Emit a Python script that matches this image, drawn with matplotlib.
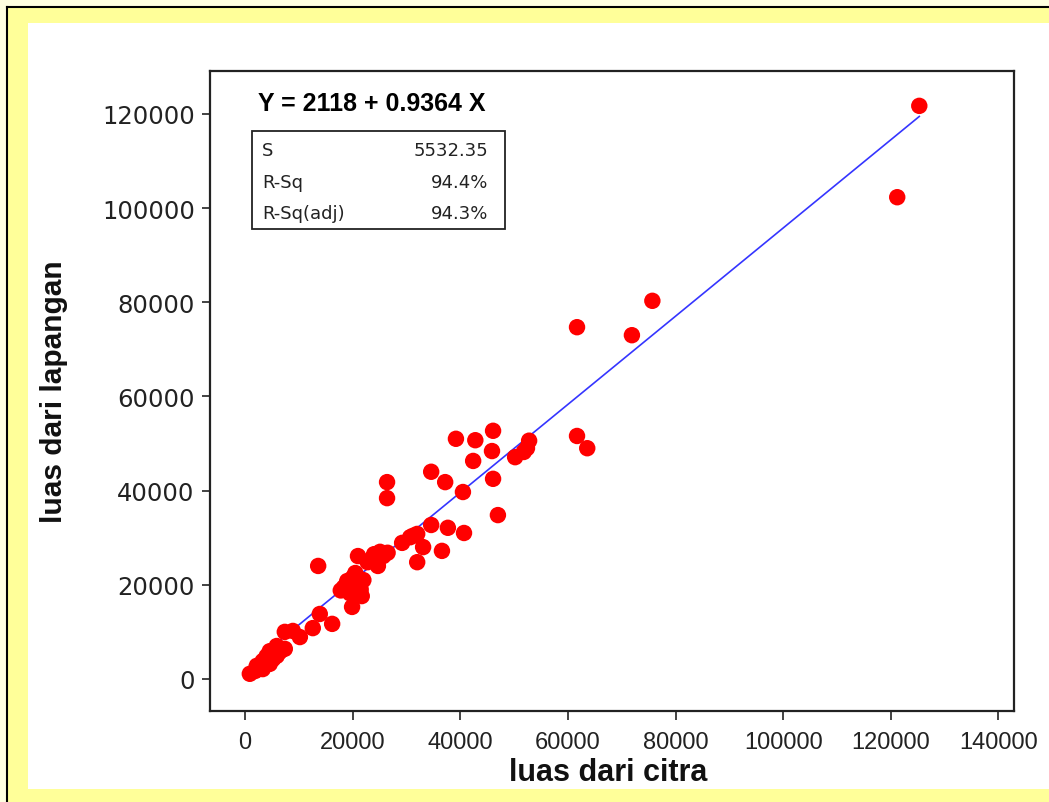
import matplotlib
matplotlib.use("Agg")
import matplotlib.pyplot as plt
from matplotlib.patches import Rectangle
from matplotlib.lines import Line2D
import numpy as np

# ---- data (thousands, converted below) ----
citra_k = [125.3, 121.2, 75.7, 61.7, 71.9, 61.7, 63.6,
           46.1, 45.9, 52.8, 52.4, 51.8, 50.2, 46.1, 47.0,
           39.2, 42.8, 42.4, 34.6, 37.2, 40.5, 26.4, 26.4,
           34.6, 37.7, 40.7, 32.0, 30.7, 29.2, 33.1, 36.6, 32.0, 31.2,
           25.7, 25.1, 24.7, 23.5, 26.5, 24.0, 22.8, 21.0, 13.6,
           18.4, 19.5, 20.0, 20.8, 21.5, 19.0, 20.5, 21.2, 19.9, 21.7, 17.8, 22.0,
           13.9, 16.2, 12.6, 7.4, 8.9, 10.2, 5.9, 7.4, 4.6, 5.2, 3.3, 2.2,
           4.6, 0.9, 1.9, 5.9, 3.3, 6.5, 4.0]
lapangan_k = [121.7, 102.3, 80.3, 74.7, 73.0, 51.6, 49.0,
              52.7, 48.4, 50.6, 49.0, 48.2, 47.1, 42.5, 34.8,
              51.0, 50.7, 46.3, 44.0, 41.8, 39.7, 41.8, 38.4,
              32.7, 32.1, 31.0, 30.8, 30.1, 28.9, 28.0, 27.2, 24.8, 30.4,
              26.1, 27.0, 24.0, 25.5, 26.8, 26.5, 24.8, 26.1, 24.0,
              19.5, 18.2, 21.5, 20.2, 19.0, 20.8, 22.5, 17.8, 15.3, 17.6, 18.8, 21.0,
              13.8, 11.7, 10.8, 10.0, 10.2, 8.9, 7.0, 6.4, 5.9, 4.2, 3.8, 2.8,
              3.2, 1.1, 1.7, 4.9, 2.1, 5.8, 4.8]
luas_citra = [v * 1000 for v in citra_k]
luas_lapangan = [v * 1000 for v in lapangan_k]

intercept = 2118
slope = 0.9364
equation = "Y = 2118 + 0.9364 X"
stat_names = ["S", "R-Sq", "R-Sq(adj)"]
stat_values = ["5532.35", "94.4%", "94.3%"]
xticks = [0, 20000, 40000, 60000, 80000, 100000, 120000, 140000]
yticks = [0, 20000, 40000, 60000, 80000, 100000, 120000]

W, H = 1049, 803
fig = plt.figure(figsize=(W / 100, H / 100), dpi=100, facecolor="#FFFFE0")

def fx(x):
    return x / W

def fy(y):
    return 1 - y / H

# frame decorations
fig.add_artist(Rectangle((fx(8), 0), 1, fy(9), transform=fig.transFigure,
                         facecolor="#FFFF99", edgecolor="none", zorder=0))
fig.add_artist(Rectangle((fx(28), fy(790)), 1, fy(24) - fy(790), transform=fig.transFigure,
                         facecolor="white", edgecolor="none", zorder=0))
fig.add_artist(Line2D([fx(7), fx(7)], [0, fy(8)], transform=fig.transFigure, color="black", lw=1.5))
fig.add_artist(Line2D([fx(7), 1], [fy(8), fy(8)], transform=fig.transFigure, color="black", lw=1.5))

L, R, T, B = 210, 1014, 72, 712
ax = fig.add_axes([fx(L), fy(B), fx(R) - fx(L), fy(T) - fy(B)])
ax.set_facecolor("white")

ax.scatter(luas_citra, luas_lapangan, s=140, c="#FF0000", edgecolors="none", zorder=3)
xl = np.array([min(luas_citra), max(luas_citra)])
ax.plot(xl, intercept + slope * xl, color="#3535FF", lw=1.2, zorder=2)

ax.set_xlim(-6500, 142900)
ax.set_ylim(-6800, 129100)
ax.set_xticks(xticks)
ax.set_yticks(yticks)
ax.set_xticklabels([str(v) for v in xticks], family=["Liberation Sans", "DejaVu Sans"], fontsize=17)
ax.set_yticklabels([str(v) for v in yticks], family="DejaVu Sans", fontsize=17.5, color="#222222")
ax.tick_params(axis="x", length=6.5, width=1.2, pad=8, colors="#222222")
ax.tick_params(axis="y", length=6, width=1.2, pad=5, colors="#222222")
for sp in ax.spines.values():
    sp.set_linewidth(1.6)
    sp.set_color("#222222")

fig.text(fx(608), fy(773), "luas dari citra", ha="center", va="center",
         family=["Liberation Sans", "DejaVu Sans"], fontweight="bold", fontsize=22, color="#111111")
fig.text(fx(54), fy(392), "luas dari lapangan", ha="center", va="center", rotation=90,
         family=["Liberation Sans", "DejaVu Sans"], fontweight="bold", fontsize=21.5, color="#111111")

# equation and stats box
fig.text(fx(258), fy(104), equation, ha="left", va="center",
         family=["Liberation Sans", "DejaVu Sans"], fontweight="bold", fontsize=18, color="black")
fig.add_artist(Rectangle((fx(252), fy(230)), fx(505) - fx(252), fy(132) - fy(230),
                         transform=fig.transFigure, facecolor="white", edgecolor="#222222", lw=1.3, zorder=5))
rows_y = [151, 183, 214]
for name, val, yy in zip(stat_names, stat_values, rows_y):
    fig.text(fx(262), fy(yy), name, ha="left", va="center", family="DejaVu Sans",
             fontsize=13, color="#222222", zorder=6)
    fig.text(fx(488), fy(yy), val, ha="right", va="center", family="DejaVu Sans",
             fontsize=13, color="#222222", zorder=6)

fig.savefig("out.png", dpi=100, facecolor=fig.get_facecolor())
